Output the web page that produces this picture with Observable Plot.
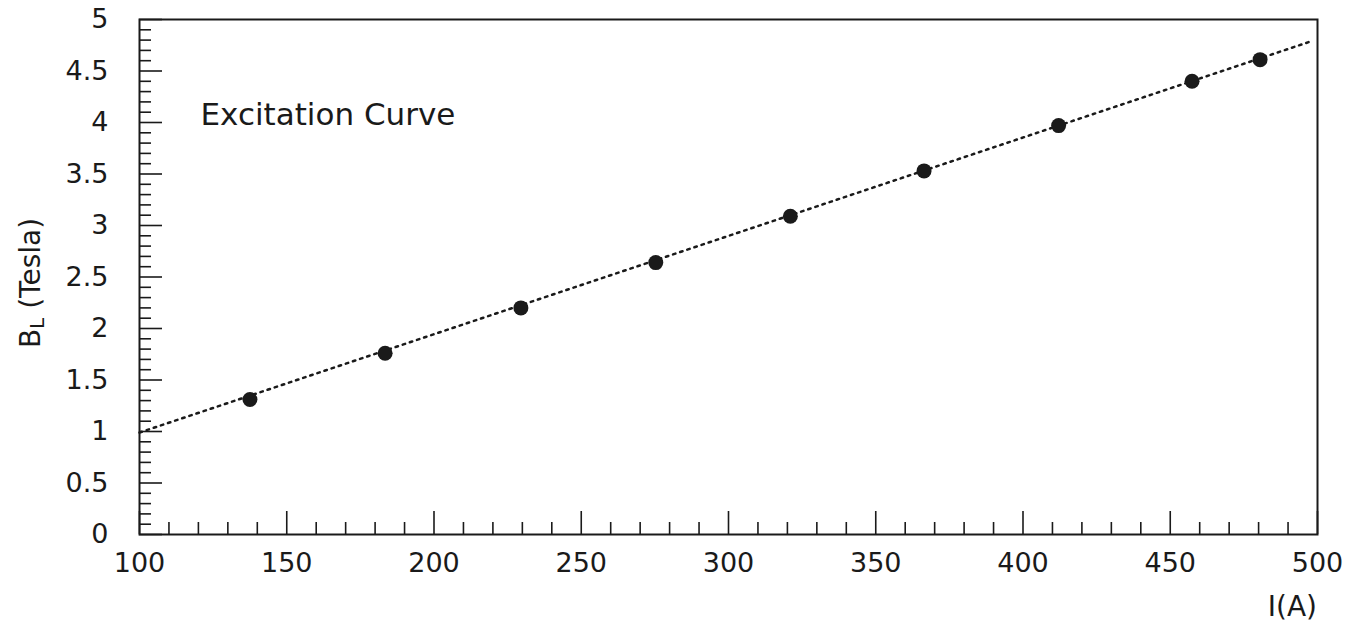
<!DOCTYPE html>
<html>
<head>
<meta charset="utf-8">
<script src="https://cdn.jsdelivr.net/npm/d3@7"></script>
<script src="https://cdn.jsdelivr.net/npm/@observablehq/plot@0.6"></script>
<style>
  html, body { margin: 0; padding: 0; background: #fff; }
  #chart svg { display: block; }
</style>
</head>
<body>
<div id="chart"></div>
<script>
// Measured excitation points: current I (A) vs integrated field B_L (Tesla)
const current = [137.5, 183.4, 229.5, 275.3, 321.0, 366.4, 412.1, 457.4, 480.5];
const field   = [1.31, 1.76, 2.20, 2.64, 3.09, 3.53, 3.97, 4.40, 4.61];

// Linear fit drawn as a dotted line across the range
const fitCurrent = [100, 498];
const fitField   = [0.99, 4.79];

// Axis ticks
const xMajor = [100, 150, 200, 250, 300, 350, 400, 450, 500];
const xMinor = d3.range(110, 500, 10).filter(v => v % 50 !== 0);
const yMajor = [0, 0.5, 1, 1.5, 2, 2.5, 3, 3.5, 4, 4.5, 5];
const yMinor = d3.range(1, 50).filter(v => v % 5 !== 0).map(v => v / 10);

const points = current.map((c, i) => ({I: c, B: field[i]}));
const fit = fitCurrent.map((c, i) => ({I: c, B: fitField[i]}));

const font = "DejaVu Sans, Liberation Sans, sans-serif";
const ink = "#1a1a1a";
const plain = d => String(d);

const chart = Plot.plot({
  width: 1364,
  height: 625,
  marginLeft: 139,
  marginRight: 47,
  marginTop: 19,
  marginBottom: 91,
  style: {fontFamily: font, fontSize: "27px", color: ink, background: "#fff"},
  x: {domain: [100, 500]},
  y: {domain: [0, 5]},
  marks: [
    Plot.frame({stroke: ink, strokeWidth: 2}),
    // ticks point into the frame; labels sit outside
    Plot.axisX({ticks: xMinor, tickSize: -12, tickFormat: () => "", label: null, strokeWidth: 1.6}),
    Plot.axisX({ticks: xMajor, tickSize: -23, tickPadding: 41, tickFormat: plain, label: null, strokeWidth: 1.6, fontSize: 27}),
    Plot.axisY({ticks: yMinor, tickSize: -12, tickFormat: () => "", label: null, strokeWidth: 1.6}),
    Plot.axisY({ticks: yMajor, tickSize: -23, tickPadding: 54, tickFormat: plain, label: null, strokeWidth: 1.6, fontSize: 27}),
    Plot.line(fit, {x: "I", y: "B", stroke: ink, strokeWidth: 2.5, strokeDasharray: "2.5,5"}),
    Plot.dot(points, {x: "I", y: "B", r: 7.5, fill: ink, stroke: "none"}),
    Plot.text(["Excitation Curve"], {
      frameAnchor: "top-left", dx: 61, dy: 83, textAnchor: "start",
      fontSize: 31, fill: ink
    })
  ]
});

document.getElementById("chart").appendChild(chart);

// Axis titles (with the subscript in B_L)
const svg = d3.select(chart);
svg.append("text")
  .attr("x", 1317).attr("y", 616)
  .attr("text-anchor", "end")
  .attr("font-family", font).attr("font-size", 28).attr("fill", ink)
  .text("I(A)");

const yl = svg.append("text")
  .attr("transform", "translate(40,283) rotate(-90)")
  .attr("text-anchor", "middle")
  .attr("font-family", font).attr("font-size", 28).attr("fill", ink);
yl.append("tspan").text("B");
yl.append("tspan").attr("font-size", 20).attr("dy", 4).text("L");
yl.append("tspan").attr("dy", -4).text(" (Tesla)");
</script>
</body>
</html>
